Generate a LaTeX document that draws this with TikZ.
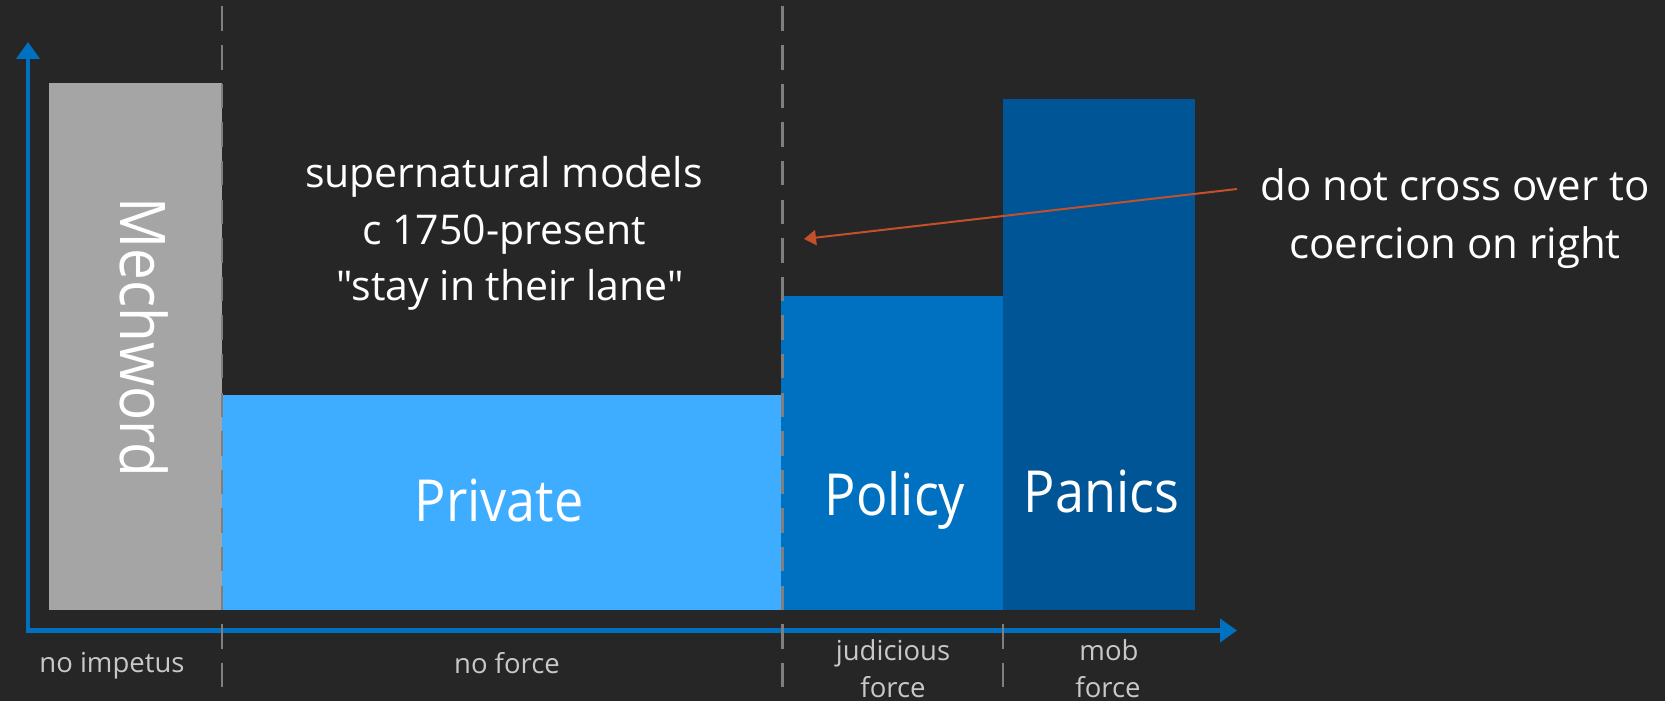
\documentclass[tikz,border=0pt]{standalone}
\usepackage{fontspec}
\setmainfont{Open Sans}[Ligatures=TeXOff]
\newfontfamily\bigf{Open Sans}[FakeStretch=0.9]
\usetikzlibrary{arrows.meta}
\definecolor{bg}{HTML}{262626}
\definecolor{mechgray}{HTML}{A5A5A5}
\definecolor{privblue}{HTML}{3FADFF}
\definecolor{polblue}{HTML}{0070C0}
\definecolor{panblue}{HTML}{005597}
\definecolor{axisblue}{HTML}{0070C0}
\definecolor{arrowred}{HTML}{C4502A}
\definecolor{dashgray}{HTML}{7F7F7F}
\definecolor{labgray}{HTML}{C8C8C8}
\begin{document}
\begin{tikzpicture}[x=1pt,y=-1pt,
  bar/.style={draw=none, inner sep=0pt, outer sep=0pt},
  lbl/.style={inner sep=0pt, anchor=base, text=white},
  biglbl/.style={lbl, font=\bigf\fontsize{58}{66}\selectfont},
  midlbl/.style={lbl, font=\fontsize{41}{48}\selectfont},
  axlbl/.style={lbl, text=labgray, font=\fontsize{27.5}{33}\selectfont},
  divider/.style={draw=dashgray, line width=2.5pt, dash pattern=on 24.5pt off 14.1pt},
  axis/.style={draw=axisblue, line width=4.5pt, {Triangle[length=17pt,width=23pt]}-{Triangle[length=17pt,width=23pt]}},
  pointer/.style={draw=arrowred, line width=2pt, -{Triangle[length=12pt,width=15pt]}}
]
\fill[bg] (0,0) rectangle (1665,701);
\useasboundingbox (0,0) rectangle (1665,701);

% bars
\node[bar, fill=mechgray, minimum width=173pt, minimum height=527pt] (mech) at (135.5,346.5) {};
\node[bar, fill=privblue, minimum width=559pt, minimum height=215pt] (priv) at (501.5,502.5) {};
\node[bar, fill=polblue, minimum width=221.5pt, minimum height=314pt] (pol) at (891.75,453) {};
\node[bar, fill=panblue, minimum width=192pt, minimum height=511pt] (pan) at (1099,354.5) {};

% axes
\coordinate (ytop) at (28,42);
\coordinate (xend) at (1237,630.5);
\draw[axis] (ytop) |- (xend);

% dashed dividers
\coordinate (d1a) at (222,6.5);
\coordinate (d1b) at (222,688);
\coordinate (d2a) at (782.7,6.5);
\coordinate (d2b) at (782.7,688);
\coordinate (d3a) at (1003,624.1);
\coordinate (d3b) at (1003,688);
\draw[divider] (d1a) -- (d1b);
\draw[divider] (d2a) -- (d2b);
\draw[divider] (d3a) -- (d3b);

% bar labels
\node[lbl, font=\bigf\fontsize{63}{70}\selectfont, rotate=-90] (mechlbl) at (120.7,337.5) {Mechword};
\node[biglbl] (privlbl) at (499,521.5) {Private};
\node[biglbl] (pollbl) at (895,515) {Policy};
\node[biglbl] (panlbl) at (1101.5,512.3) {Panics};

% central text
\node[midlbl] (sup1) at (504,187.7) {supernatural models};
\node[midlbl] (sup2) at (504,244.2) {c 1750-present};
\node[midlbl] (sup3) at (510,300.7) {"stay in their lane"};

% right note
\node[midlbl, font=\fontsize{42}{48}\selectfont] (note1) at (1455,200) {do not cross over to};
\node[midlbl, font=\fontsize{42}{48}\selectfont] (note2) at (1455,258.3) {coercion on right};
\coordinate (pstart) at (1237,189);
\coordinate (pend) at (804,239);
\draw[pointer] (pstart) -- (pend);

% axis labels
\node[axlbl] (ax1) at (112,672) {no impetus};
\node[axlbl] (ax2) at (507,673.5) {no force};
\node[axlbl] (ax3a) at (893,660) {judicious};
\node[axlbl] (ax3b) at (893,697) {force};
\node[axlbl] (ax4a) at (1109,660) {mob};
\node[axlbl] (ax4b) at (1108,697) {force};
\end{tikzpicture}
\end{document}
